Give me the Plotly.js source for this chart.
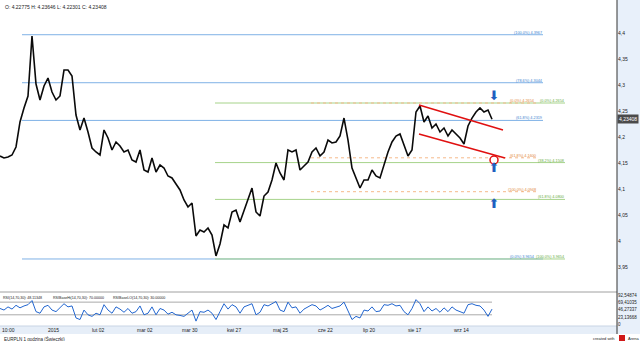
<!DOCTYPE html>
<html><head><meta charset="utf-8">
<script src="https://cdn.plot.ly/plotly-3.0.1.min.js"></script>
<style>html,body{margin:0;padding:0;background:#fff}#chart{width:640px;height:341px}</style>
</head><body><div id="chart"></div>
<script>
// ---- data ----
const closePrice = [
 4.1635,4.1596,4.1615,4.1654,4.1808,4.2289,4.2558,4.2789,4.3942,4.3019,
 4.2712,4.2981,4.3135,4.2865,4.2712,4.2789,4.3288,4.3288,4.3173,4.2423,
 4.2135,4.2365,4.2096,4.1789,4.1712,4.1654,4.2135,4.1981,4.1750,4.1904,
 4.1827,4.1712,4.1750,4.1558,4.1519,4.1750,4.1365,4.1327,4.1596,4.1327,
 4.1462,4.1404,4.1250,4.1212,4.1096,4.0981,4.0788,4.0654,4.0731,4.0096,
 4.0212,4.0173,4.0250,4.0115,3.9712,3.9942,4.0308,4.0250,4.0558,4.0596,
 4.0366,4.0596,4.0788,4.1019,4.0558,4.0481,4.0865,4.0942,4.1173,4.1500,
 4.1308,4.1173,4.1750,4.1712,4.1750,4.1365,4.1442,4.1519,4.1712,4.1789,
 4.1635,4.1712,4.1942,4.1885,4.1904,4.2019,4.2365,4.1942,4.1404,4.1212,
 4.1019,4.1173,4.1173,4.1365,4.1250,4.1212,4.1462,4.1712,4.1904,4.2019,
 4.2058,4.1846,4.1635,4.1750,4.2481,4.2596,4.2289,4.2404,4.2173,4.2250,
 4.2096,4.2173,4.2019,4.2135,4.2058,4.1981,4.1865,4.2212,4.2365,4.2481,
 4.2558,4.2481,4.2519,4.2341
];
const rsiValues = [
 50,45,55,48,60,52,58,62,75,
 40,35,55,60,45,40,52,65,55,58,
 20,15,45,30,25,35,
 30,62,45,35,55,48,
 38,50,35,40,58,30,35,55,30,50,
 45,32,38,30,28,25,35,45,
 10,40,38,45,35,15,40,65,
 48,62,55,35,55,60,65,30,
 38,62,58,65,72,45,40,70,
 52,55,35,48,55,62,58,45,
 52,60,50,55,58,70,40,15,
 25,20,45,42,55,40,42,62,
 60,65,58,60,40,30,50,78,
 65,40,55,42,50,38,52,40,
 55,45,40,35,62,65,60,58,
 45,25,48
];
const xTickPos = [0.5, 12, 23, 34.25, 45.5, 56.75, 68.25, 79.5, 90.75, 102, 113.5];
const xTickLabels = ['10:00','2015','lut 02','mar 02','mar 30','kwi 27','maj 25','cze 22','lip 20','sie 17','wrz 14'];
const yTickVals = [3.95,4,4.05,4.1,4.15,4.2,4.25,4.3,4.35,4.4];
const rsiTickVals = [0, 23.13668, 46.27337, 69.41035, 92.54874];
const rsiTickLabels = ['0','23,13668','46,27337','69,41035','92,54874'];
const rsiBaseHi = [70, 70];
const rsiBaseLo = [30, 30];

const fibBlueLevels = [4.3967, 4.3044, 4.2319, 3.9654];
const fibBlueLabels = ['(100.0%) 4.3967','(78.6%) 4.3044','(61.8%) 4.2319','(0.0%) 3.9654'];
const fibBlueSpan = [5.5, 135.75];
const fibGreenLevels = [4.2654, 4.1508, 4.0800, 3.9654];
const fibGreenLabels = ['(0.0%) 4.2654','(38.2%) 4.1508','(61.8%) 4.0800','(100.0%) 3.9654'];
const fibGreenSpan = [53.75, 141.25];
const fibOrangeLevels = [4.2654, 4.1600, 4.0948];
const fibOrangeLabels = ['(0.0%) 4.2654','(61.8%) 4.1600','(100.0%) 4.0948'];
const fibOrangeSpan = [77.75, 134.25];

const chanUpperX = [104.75, 125.75], chanUpperY = [4.2615, 4.2135];
const chanLowerX = [104.75, 126.25], chanLowerY = [4.2058, 4.1596];
const signalX = [123.5, 123.5, 123.5];
const signalY = [4.2769, 4.1385, 4.0692];
const signalText = ['⬇','⬆','⬆'];
const circleX = [123.5], circleY = [4.1558];

const lastClose = 4.23408;
const headerText = 'O: 4.22775 H: 4.23646 L: 4.22301 C: 4.23408';
const rsiTexts = ['RSI(14,70,30): 48.11348','RSIBaseHi(14,70,30): 70.00000','RSIBaseLO(14,70,30): 30.00000'];
const footerText = 'EURPLN 1 godzina (Świeczki)';

// ---- build ----
const idx = closePrice.map((_, i) => i);
const traces = [];
const annotations = [];
function fibSet(levels, labels, span, color, lcolor, dash, shifts) {
  levels.forEach((lv, k) => {
    traces.push({x: span, y: [lv, lv], mode: 'lines', xaxis: 'x', yaxis: 'y',
      line: {color: color, width: 1, dash: dash}, hoverinfo: 'skip'});
    annotations.push({x: span[1], y: lv, xref: 'x', yref: 'y', text: labels[k],
      showarrow: false, xanchor: 'right', yanchor: 'bottom', borderpad: 0, yshift: -1,
      xshift: shifts ? shifts[k] : 0,
      font: {size: 3.8, color: lcolor}});
  });
}
fibSet(fibBlueLevels, fibBlueLabels, fibBlueSpan, '#7fb1e6', '#3d7fd0', 'solid', [0, 0, 0, -8]);
fibSet(fibGreenLevels, fibGreenLabels, fibGreenSpan, '#a6d38a', '#6aad45', 'solid');
fibSet(fibOrangeLevels, fibOrangeLabels, fibOrangeSpan, '#f5b98a', '#e2883c', 'dot', [-2, 0, 0]);

traces.push({x: idx, y: closePrice, mode: 'lines', xaxis: 'x', yaxis: 'y',
  line: {color: '#0a0a0a', width: 1.6}, hoverinfo: 'skip'});
traces.push({x: chanUpperX, y: chanUpperY, mode: 'lines', xaxis: 'x', yaxis: 'y',
  line: {color: '#e01010', width: 1.5}});
traces.push({x: chanLowerX, y: chanLowerY, mode: 'lines', xaxis: 'x', yaxis: 'y',
  line: {color: '#e01010', width: 1.5}});
traces.push({x: circleX, y: circleY, mode: 'markers', xaxis: 'x', yaxis: 'y',
  marker: {symbol: 'circle', size: 8, color: '#fff', line: {color: '#e01010', width: 1.5}}});
traces.push({x: signalX, y: signalY, mode: 'text', text: signalText, xaxis: 'x', yaxis: 'y',
  textfont: {size: 13, color: '#1f5fc0', family: 'DejaVu Sans'}});

// RSI panel
traces.push({x: [0, idx[idx.length-1]], y: rsiBaseHi, mode: 'lines', xaxis: 'x', yaxis: 'y2',
  line: {color: '#aaaaaa', width: 1}});
traces.push({x: [0, idx[idx.length-1]], y: rsiBaseLo, mode: 'lines', xaxis: 'x', yaxis: 'y2',
  line: {color: '#aaaaaa', width: 1}});
traces.push({x: idx, y: rsiValues, mode: 'lines', xaxis: 'x', yaxis: 'y2',
  line: {color: '#2266d0', width: 1}});

const plotH = 326;
const py = p => (plotH - p) / plotH; // pixel y -> paper
const px = p => p / 617;

annotations.push({xref: 'paper', yref: 'paper', x: px(3), y: py(7), text: headerText,
  showarrow: false, xanchor: 'left', yanchor: 'middle', font: {size: 5, color: '#222'}});
[0, 50, 110].forEach((xx, k) => annotations.push({xref: 'paper', yref: 'paper', x: px(xx + 1), y: py(298),
  text: rsiTexts[k], showarrow: false, xanchor: 'left', yanchor: 'middle', font: {size: 3.6, color: '#222'}}));
annotations.push({xref: 'paper', yref: 'paper', x: px(2), y: py(338), text: footerText,
  showarrow: false, xanchor: 'left', yanchor: 'middle', font: {size: 4.5, color: '#222'}});
annotations.push({xref: 'paper', yref: 'paper', x: px(617), y: py(338), text: 'created with',
  showarrow: false, xanchor: 'right', yanchor: 'middle', font: {size: 4, color: '#222'}});
annotations.push({xref: 'paper', yref: 'paper', x: px(626), y: py(338), text: 'Arena',
  showarrow: false, xanchor: 'left', yanchor: 'middle', font: {size: 4, color: '#222'}});
annotations.push({xref: 'paper', yref: 'y', x: 1, y: lastClose, text: '4,23408',
  showarrow: false, xanchor: 'left', yanchor: 'middle', bgcolor: '#4a4a4a', borderpad: 1,
  font: {size: 5, color: '#fff'}});

const shapes = [
  {type: 'rect', xref: 'paper', yref: 'paper', x0: 1, x1: px(640), y0: py(334), y1: 1,
   fillcolor: '#e8f0fa', line: {width: 0}, layer: 'below'},
  {type: 'rect', xref: 'paper', yref: 'paper', x0: 0, x1: 1, y0: py(334), y1: 0,
   fillcolor: '#e6eef8', line: {width: 0}, layer: 'below'},
  {type: 'line', xref: 'paper', yref: 'paper', x0: 0, x1: 1, y0: py(292), y1: py(292),
   line: {color: '#a0a0a0', width: 1}},
  {type: 'line', xref: 'paper', yref: 'paper', x0: 0, x1: 1, y0: 0, y1: 0,
   line: {color: '#c8d4e4', width: 1}},
  {type: 'line', xref: 'paper', yref: 'paper', x0: 1, x1: 1, y0: py(334), y1: 1,
   line: {color: '#333', width: 1}},
  {type: 'rect', xref: 'paper', yref: 'paper', x0: px(619), x1: px(625), y0: py(341), y1: py(335),
   fillcolor: '#d01818', line: {width: 0}}
];

const layout = {
  width: 640, height: 341,
  margin: {l: 0, r: 23, t: 0, b: 15},
  paper_bgcolor: '#fff', plot_bgcolor: '#fff',
  separators: ', ',
  showlegend: false,
  font: {family: 'Liberation Sans, Arial, sans-serif', size: 5, color: '#222'},
  xaxis: {domain: [0, 1], range: [0, 154.25], anchor: 'y2', tickvals: xTickPos, ticktext: xTickLabels,
    ticklabelposition: 'outside right', ticks: '', showgrid: false, zeroline: false, showline: false,
    tickfont: {size: 5, color: '#222'}},
  yaxis: {domain: [py(292), 1], range: [3.9019, 4.4635], side: 'right', anchor: 'x',
    tickvals: yTickVals, showgrid: false, zeroline: false, ticks: '', showline: false,
    tickfont: {size: 5, color: '#222'}},
  yaxis2: {domain: [0, py(293)], range: [-5.4, 98.9], side: 'right', anchor: 'x',
    tickvals: rsiTickVals, ticktext: rsiTickLabels, showgrid: false, zeroline: false, ticks: '',
    tickfont: {size: 4.5, color: '#222'}},
  shapes: shapes,
  annotations: annotations
};
Plotly.newPlot('chart', traces, layout, {displayModeBar: false, staticPlot: true});
</script></body></html>
